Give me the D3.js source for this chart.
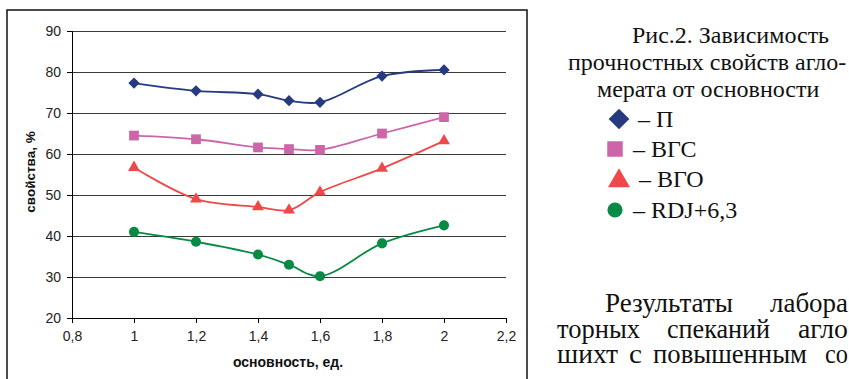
<!DOCTYPE html>
<html>
<head>
<meta charset="utf-8">
<script src="https://cdn.jsdelivr.net/npm/d3@7"></script>
<style>
  html, body { margin: 0; padding: 0; background: #fff; }
  svg { display: block; }
  .sans { font-family: "Liberation Sans", Arial, Helvetica, sans-serif; }
  .serif { font-family: "Liberation Serif", "Times New Roman", serif; }
</style>
</head>
<body>
<svg id="chart" width="849" height="379"></svg>
<script>
// ---- data ----
const basicity = [1, 1.2, 1.4, 1.5, 1.6, 1.8, 2];
const seriesP   = [77.3, 75.4, 74.6, 73.0, 72.6, 79.0, 80.5];
const seriesVGS = [64.5, 63.6, 61.6, 61.2, 61.0, 65.0, 69.0];
const seriesVGO = [56.7, 49.0, 47.1, 46.3, 50.7, 56.5, 63.2];
const seriesRDJ = [41.0, 38.6, 35.5, 33.0, 30.2, 38.2, 42.6];
const xTicks = [0.8, 1, 1.2, 1.4, 1.6, 1.8, 2, 2.2];
const yTicks = [20, 30, 40, 50, 60, 70, 80, 90];
const seriesNames = ["П", "ВГС", "ВГО", "RDJ+6,3"];
const yTitle = "свойства, %";
const xTitle = "основность, ед.";
const captionLines = ["Рис.2. Зависимость", "прочностных свойств агло-", "мерата от основности"];
const bodyRows = [
  ["Результаты", "лабора"],
  ["торных", "спеканий", "агло"],
  ["шихт", "с", "повышенным", "со"]
];

const svg = d3.select("#chart");

const x = d3.scaleLinear().domain([0.8, 2.2]).range([72, 506]);
const y = d3.scaleLinear().domain([20, 90]).range([318, 31]);

// outer frame
svg.append("rect").attr("x", 7).attr("y", 10).attr("width", 520).attr("height", 400)
  .attr("fill", "none").attr("stroke", "#111").attr("stroke-width", 1.5);

// gridlines
svg.append("g").selectAll("line").data(yTicks.filter(d => d > 20)).join("line")
  .attr("x1", x(0.8)).attr("x2", x(2.2))
  .attr("y1", d => Math.round(y(d)) + 0.5).attr("y2", d => Math.round(y(d)) + 0.5)
  .attr("stroke", "#3a3a3a").attr("stroke-width", 1);

// y axis
const yAxis = d3.axisLeft(y).tickValues(yTicks).tickSize(5).tickPadding(6)
  .tickFormat(d3.format("d"));
const gy = svg.append("g").attr("transform", `translate(${x(0.8)},0)`).call(yAxis);
gy.attr("font-family", null).attr("font-size", null);
gy.select(".domain").attr("stroke", "#000");
gy.selectAll(".tick line").attr("stroke", "#000");
gy.selectAll(".tick text").attr("class", "sans").style("font-size", "14px").attr("fill", "#222");

// x axis
const xAxis = d3.axisBottom(x).tickValues(xTicks).tickSize(5).tickPadding(8)
  .tickFormat(d => String(d).replace(".", ","));
const gx = svg.append("g").attr("transform", `translate(0,${y(20)})`).call(xAxis);
gx.attr("font-family", null).attr("font-size", null);
gx.select(".domain").attr("stroke", "#000");
gx.selectAll(".tick line").attr("stroke", "#000");
gx.selectAll(".tick text").attr("class", "sans").style("font-size", "14px").attr("fill", "#222");

// axis titles
svg.append("text").attr("class", "sans").attr("transform", "translate(35,172) rotate(-90)")
  .attr("text-anchor", "middle").style("font-weight", "bold")
  .style("font-size", "13.5px").attr("fill", "#111").text(yTitle);
svg.append("text").attr("class", "sans").attr("x", 288).attr("y", 367)
  .attr("text-anchor", "middle").style("font-weight", "bold")
  .style("font-size", "14px").attr("fill", "#111").text(xTitle);

// series
const series = [
  { vals: seriesP,   color: "#263a7f", sym: d3.symbolSquare, rot: 45, size: 64, legSize: 215 },
  { vals: seriesVGS, color: "#cc66a9", sym: d3.symbolSquare, rot: 0, size: 95, legSize: 240 },
  { vals: seriesVGO, color: "#f04848", sym: d3.symbolTriangle, rot: 0, size: 62, legSize: 210 },
  { vals: seriesRDJ, color: "#078a44", sym: d3.symbolCircle, rot: 0, size: 80, legSize: 180 }
];

const line = d3.line().x(d => x(d[0])).y(d => y(d[1])).curve(d3.curveCatmullRom.alpha(0.5));

series.forEach(s => {
  const pts = basicity.map((b, i) => [b, s.vals[i]]);
  svg.append("path").attr("d", line(pts)).attr("fill", "none")
    .attr("stroke", s.color).attr("stroke-width", 1.8);
  svg.append("g").selectAll("path").data(pts).join("path")
    .attr("transform", d => `translate(${x(d[0])},${y(d[1])}) rotate(${s.rot})`)
    .attr("d", d3.symbol().type(s.sym).size(s.size)())
    .attr("fill", s.color);
});

// caption (right side)
const capX = [632, 568, 597];
const capY = [43, 70, 97];
captionLines.forEach((t, i) => {
  svg.append("text").attr("class", "serif").attr("x", capX[i]).attr("y", capY[i])
    .style("font-size", "24px").attr("fill", "#111").text(t);
});

// legend
const legMarkX = [619, 615, 619, 615];
const legMarkY = [119, 149, 181, 210];
const legTextX = [638, 633, 639, 633];
const legTextY = [127, 157, 187, 218];
series.forEach((s, i) => {
  svg.append("path").attr("transform", `translate(${legMarkX[i]},${legMarkY[i]}) rotate(${s.rot})`)
    .attr("d", d3.symbol().type(s.sym).size(s.legSize)()).attr("fill", s.color);
  svg.append("text").attr("class", "serif").attr("x", legTextX[i]).attr("y", legTextY[i])
    .style("font-size", "24px").attr("fill", "#111")
    .text("– " + seriesNames[i]);
});

// body text fragments (justified paragraph, word by word)
const bodyX = [[605, 770], [557, 667, 798], [557, 629, 653, 825]];
const bodyW = [[128, 78], [83, 103, 50], [61, 13, 154, 23]];
const bodyY = [312, 338, 363];
bodyRows.forEach((row, r) => {
  row.forEach((w, k) => {
    svg.append("text").attr("class", "serif").attr("x", bodyX[r][k]).attr("y", bodyY[r])
      .style("font-size", "27px").attr("fill", "#111")
      .attr("textLength", bodyW[r][k]).attr("lengthAdjust", "spacingAndGlyphs")
      .text(w);
  });
});
</script>
</body>
</html>
